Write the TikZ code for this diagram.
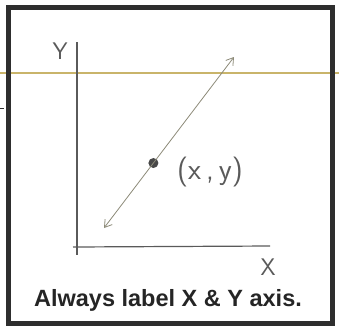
\documentclass[tikz,border=0pt]{standalone}
\usepackage{fontspec}
\setmainfont{Liberation Sans}
\usetikzlibrary{positioning, arrows.meta, calc}

\definecolor{framegray}{HTML}{2E2E2E}
\definecolor{pencil}{HTML}{5A5A5A}
\definecolor{lightpencil}{HTML}{8C8A78}
\definecolor{tanline}{HTML}{C9B46A}

\begin{document}
\begin{tikzpicture}[
  x=1pt, y=-1pt,
  frame/.style={draw=framegray, line width=5pt},
  axisline/.style={draw=pencil, line width=1.2pt},
  trend/.style={{Straight Barb[length=7pt, width=9pt]}-{Straight Barb[length=7pt, width=9pt]}, draw=lightpencil, line width=0.8pt},
  handlabel/.style={font=\sffamily\fontsize{24}{24}\selectfont, text=pencil, inner sep=0pt},
  dotpoint/.style={circle, fill=pencil!80!black, minimum size=10pt, inner sep=0pt},
  caption/.style={font=\bfseries\fontsize{23.5}{23.5}\selectfont, text=framegray!80!black, inner sep=0pt}
]
\useasboundingbox (0,0) rectangle (339,325);

% scan line, then page frame
\draw[tanline, line width=1.2pt] (0,73) -- (339,73);
\draw[framegray, line width=1pt] (0,108) -- (4,108);
\draw[frame] (8,7) rectangle (332,323);

% axes
\coordinate (ytop) at (77,42);
\coordinate (ybottom) at (77,255);
\coordinate (xleft) at (73,247);
\coordinate (xend) at (270,246);
\draw[axisline] (ytop) -- (ybottom);
\draw[axisline] (xleft) -- (xend);
\node[handlabel] (ylabel) at (60,51) {Y};
\node[handlabel] (xlabel) at (268,267) {X};

% line through the point
\coordinate (lowend) at (104,228);
\coordinate (highend) at (234,57);
\node[dotpoint] (point) at ($(lowend)!0.38!(highend)$) {};
\draw[trend] (lowend) -- (highend);
\node[handlabel, font=\sffamily\fontsize{30}{30}\selectfont] (pointlabel) at (210,172) {(x\,,\,y)};

\node[caption] (note) at (168,300) {Always label X \& Y axis.};
\end{tikzpicture}
\end{document}
